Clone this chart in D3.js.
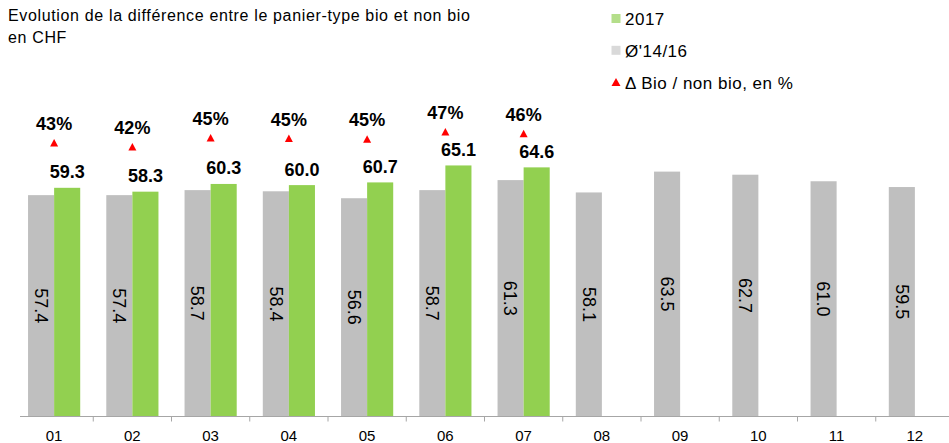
<!DOCTYPE html>
<html>
<head>
<meta charset="utf-8">
<script src="https://cdn.jsdelivr.net/npm/d3@7"></script>
<style>
  body { margin: 0; background: #fff; }
  svg { display: block; font-family: "Liberation Sans", Arial, sans-serif; }
</style>
</head>
<body>
<svg id="chart"></svg>
<script>
const width = 949;
const height = 443;

// data
const months = ["01", "02", "03", "04", "05", "06", "07", "08", "09", "10", "11", "12"];
const avg1416 = [57.4, 57.4, 58.7, 58.4, 56.6, 58.7, 61.3, 58.1, 63.5, 62.7, 61.0, 59.5];
const val2017 = [59.3, 58.3, 60.3, 60.0, 60.7, 65.1, 64.6];
const deltaPct = [43.4, 42.1, 45.0, 44.8, 44.6, 46.9, 46.4];

const titleLines = ["Evolution de la différence entre le panier-type bio et non bio", "en CHF"];
const legendItems = [
  { label: "2017", type: "square", color: "#b4de8a" },
  { label: "Ø'14/16", type: "square", color: "#d9d9d9" },
  { label: "\u0394 Bio / non bio, en %", type: "triangle", color: "#ff0000" }
];

const green = "#92d050";
const grey = "#bfbfbf";
const baseline = 416.5;

const svg = d3.select("#chart")
  .attr("width", width)
  .attr("height", height)
  .attr("viewBox", [0, 0, width, height]);

const x = d3.scaleBand()
  .domain(months)
  .range([15, 954]);

const x1 = d3.scaleBand()
  .domain(["avg", "y2017"])
  .range([0, x.bandwidth()])
  .paddingOuter(0.5);

const y = d3.scaleLinear()
  .domain([0, 108])
  .range([baseline, 0]);

// secondary scale for the percentage markers
const yPct = d3.scaleLinear()
  .domain([40, 50])
  .range([153.5, 122.5]);

// title
svg.append("g")
  .selectAll("text")
  .data(titleLines)
  .join("text")
    .attr("x", 8)
    .attr("y", (d, i) => 21 + i * 22)
    .attr("font-size", 16)
    .attr("letter-spacing", 0.65)
    .attr("fill", "#000")
    .text(d => d);

// legend
const legend = svg.append("g")
  .selectAll("g")
  .data(legendItems)
  .join("g")
    .attr("transform", (d, i) => `translate(611,${25 + i * 31.8})`);

legend.filter(d => d.type === "square")
  .append("rect")
    .attr("x", 0.5)
    .attr("y", -11)
    .attr("width", 9)
    .attr("height", 9)
    .attr("fill", d => d.color);

legend.filter(d => d.type === "triangle")
  .append("path")
    .attr("d", "M5,-10.5L9.5,-2.5L0.5,-2.5Z")
    .attr("fill", d => d.color);

legend.append("text")
  .attr("x", 14)
  .attr("font-size", 17)
  .attr("letter-spacing", 0.5)
  .attr("fill", "#000")
  .text(d => d.label);

// grey bars (average 14/16)
const greyData = months.map((m, i) => ({ month: m, value: avg1416[i] }));
const greenData = val2017.map((v, i) => ({ month: months[i], value: v }));
const pctData = deltaPct.map((v, i) => ({ month: months[i], value: v }));

svg.append("g")
  .selectAll("rect")
  .data(greyData)
  .join("rect")
    .attr("x", d => x(d.month) + x1("avg"))
    .attr("y", d => y(d.value))
    .attr("width", x1.bandwidth())
    .attr("height", d => y(0) - y(d.value))
    .attr("fill", grey);

svg.append("g")
  .selectAll("rect")
  .data(greenData)
  .join("rect")
    .attr("x", d => x(d.month) + x1("y2017"))
    .attr("y", d => y(d.value))
    .attr("width", x1.bandwidth())
    .attr("height", d => y(0) - y(d.value))
    .attr("fill", green);

// rotated labels inside grey bars
svg.append("g")
  .selectAll("text")
  .data(greyData)
  .join("text")
    .attr("transform", d => `translate(${x(d.month) + x1("avg") + x1.bandwidth() / 2},${(y(d.value) + y(0)) / 2}) rotate(90)`)
    .attr("text-anchor", "middle")
    .attr("dy", "0.35em")
    .attr("font-size", 18)
    .attr("fill", "#000")
    .text(d => d3.format(".1f")(d.value));

// labels above green bars
svg.append("g")
  .selectAll("text")
  .data(greenData)
  .join("text")
    .attr("x", d => x(d.month) + x1("y2017") + x1.bandwidth() / 2)
    .attr("y", d => y(d.value) - 9.5)
    .attr("text-anchor", "middle")
    .attr("font-size", 18)
    .attr("font-weight", "bold")
    .attr("fill", "#000")
    .text(d => d3.format(".1f")(d.value));

// delta markers
const cx = d => x(d.month) + x.bandwidth() / 2;

svg.append("g")
  .selectAll("path")
  .data(pctData)
  .join("path")
    .attr("transform", d => `translate(${cx(d)},${yPct(d.value)})`)
    .attr("d", "M0,-4L4,3.5L-4,3.5Z")
    .attr("fill", "#ff0000");

svg.append("g")
  .selectAll("text")
  .data(pctData)
  .join("text")
    .attr("x", cx)
    .attr("y", d => yPct(d.value) - 13)
    .attr("text-anchor", "middle")
    .attr("font-size", 18)
    .attr("font-weight", "bold")
    .attr("fill", "#000")
    .text(d => d3.format(".0f")(d.value) + "%");

// x axis
const axis = svg.append("g")
  .attr("transform", `translate(0,${baseline})`)
  .call(d3.axisBottom(x).tickSize(0).tickPadding(14))
  .call(g => g.select(".domain").remove());

axis.selectAll("text")
  .attr("font-size", 15)
  .attr("font-family", "Liberation Sans, Arial, sans-serif")
  .attr("fill", "#000");

axis.append("line")
  .attr("x1", 20)
  .attr("x2", width)
  .attr("stroke", "#a6a6a6")
  .attr("stroke-width", 1);

axis.append("g")
  .selectAll("line")
  .data(months)
  .join("line")
    .attr("x1", d => x(d) + x.step())
    .attr("x2", d => x(d) + x.step())
    .attr("y1", 0)
    .attr("y2", 5)
    .attr("stroke", "#a6a6a6");
</script>
</body>
</html>
